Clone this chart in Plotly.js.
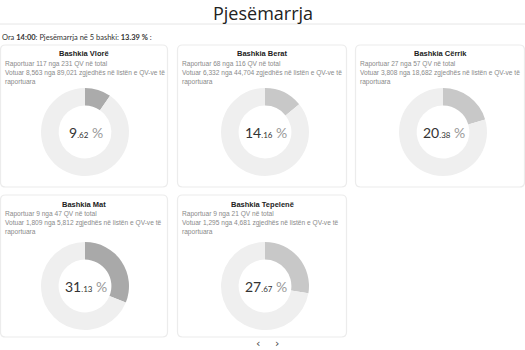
<!DOCTYPE html>
<html>
<head>
<meta charset="utf-8">
<script src="https://cdn.plot.ly/plotly-3.0.1.min.js"></script>
<style>html,body{margin:0;padding:0;background:#fff;}#chart{width:525px;height:350px;}</style>
</head>
<body>
<div id="chart"></div>
<script>
var municipalities = ["Bashkia Vlorë", "Bashkia Berat", "Bashkia Cërrik", "Bashkia Mat", "Bashkia Tepelenë"];
var reportedQV = [117, 68, 27, 9, 9];
var totalQV = [231, 116, 57, 47, 21];
var voted = [8563, 6332, 3808, 1809, 1295];
var registered = [89021, 44704, 18682, 5812, 4681];
var percentLabels = ["9.62", "14.16", "20.38", "31.13", "27.67"];
var sliceColors = ["#ababab", "#c8c8c8", "#c8c8c8", "#a9a9a9", "#c8c8c8"];
var overallTime = "14:00";
var overallPct = "13.39";

var W = 525, H = 350;
function fx(px){ return px / W; }
function fy(py){ return 1 - py / H; }
function fmt(n){ return n.toLocaleString("en-US"); }

var cardX = [[0,168],[177,347],[355,525]];
var rowTop = [45, 195];
var rowBot = [187, 337];
var donutCy = [132, 286];
var donutCx = [85, 265, 443];
var R = 44;

var traces = [], annotations = [], shapes = [];

shapes.push({type:"line", xref:"paper", yref:"paper", x0:0, x1:1, y0:fy(24), y1:fy(24), line:{color:"#e6e6e6", width:1}});

annotations.push({xref:"paper", yref:"paper", x:0.5, y:fy(13), text:"Pjesëmarrja", showarrow:false,
  font:{family:"'Open Sans', Lato, sans-serif", size:18, color:"#222", weight:400}, xanchor:"center", yanchor:"middle"});
annotations.push({xref:"paper", yref:"paper", x:0, y:fy(37), xanchor:"left", yanchor:"middle", showarrow:false,
  text:"Ora <b>" + overallTime + "</b>: Pjesëmarrja në 5 bashki: <b>" + overallPct + " %</b> :",
  font:{family:"Lato, sans-serif", size:7.5, color:"#333"}});

function roundRect(x0,y0,x1,y1,r){
  function P(x,y){ return fx(x)+","+fy(y); }
  return "M"+P(x0+r,y0)+" L"+P(x1-r,y0)+" Q"+P(x1,y0)+" "+P(x1,y0+r)+" L"+P(x1,y1-r)+" Q"+P(x1,y1)+" "+P(x1-r,y1)+
    " L"+P(x0+r,y1)+" Q"+P(x0,y1)+" "+P(x0,y1-r)+" L"+P(x0,y0+r)+" Q"+P(x0,y0)+" "+P(x0+r,y0)+" Z";
}

for (var i = 0; i < municipalities.length; i++) {
  var row = Math.floor(i / 3), col = i % 3;
  var cx = donutCx[col], cy = donutCy[row];
  var cardL = cardX[col][0], cardR = cardX[col][1], cardT = rowTop[row], cardB = rowBot[row];
  var cardCx = (cardL + cardR) / 2;

  shapes.push({type:"path", xref:"paper", yref:"paper", path:roundRect(cardL+0.5, cardT, cardR-0.5, cardB, 5),
    line:{color:"#ececec", width:1.2}, fillcolor:"rgba(0,0,0,0)", layer:"below"});

  traces.push({
    type:"pie", values:[voted[i], registered[i] - voted[i]], labels:["Votuar","Pa votuar"],
    hole:0.6, sort:false, direction:"clockwise", rotation:0, textinfo:"none", hoverinfo:"none",
    marker:{colors:[sliceColors[i], "#efefef"], line:{width:0}},
    domain:{x:[fx(cx - R), fx(cx + R)], y:[fy(cy + R), fy(cy - R)]}, showlegend:false
  });

  annotations.push({xref:"paper", yref:"paper", x:fx(cardCx), y:fy(cardT + 9), xanchor:"center", yanchor:"middle", showarrow:false,
    text:"<b>" + municipalities[i] + "</b>", font:{family:"Liberation Sans, Arial, sans-serif", size:7.5, color:"#222"}});
  var lines = [
    "Raportuar " + reportedQV[i] + " nga " + totalQV[i] + " QV në total",
    "Votuar " + fmt(voted[i]) + " nga " + fmt(registered[i]) + " zgjedhës në listën e QV-ve të",
    "raportuara"
  ];
  for (var k = 0; k < lines.length; k++) {
    annotations.push({xref:"paper", yref:"paper", x:fx(cardL + 3), y:fy(cardT + 18.5 + k * 9.2), xanchor:"left", yanchor:"middle", showarrow:false,
      text:lines[k], font:{family:"Liberation Sans, Arial, sans-serif", size:6.6, color:"#8a8a8a"}});
  }
  var parts = percentLabels[i].split(".");
  annotations.push({xref:"paper", yref:"paper", x:fx(cx + 1), y:fy(cy), xanchor:"center", yanchor:"middle", showarrow:false,
    text: parts[0] + "<span style='font-size:8px'>." + parts[1] + "</span> <span style='color:#9a9a9a'>%</span>",
    font:{family:"Lato, sans-serif", size:14, color:"#333"}});
}

annotations.push({xref:"paper", yref:"paper", x:fx(258), y:fy(343), xanchor:"center", yanchor:"middle", showarrow:false,
  text:"‹", font:{family:"DejaVu Sans", size:11, color:"#444"}});
annotations.push({xref:"paper", yref:"paper", x:fx(277), y:fy(343), xanchor:"center", yanchor:"middle", showarrow:false,
  text:"›", font:{family:"DejaVu Sans", size:11, color:"#444"}});

var layout = {
  width:W, height:H, margin:{l:0, r:0, t:0, b:0}, paper_bgcolor:"#fff", plot_bgcolor:"#fff",
  showlegend:false, annotations:annotations, shapes:shapes
};
Plotly.newPlot("chart", traces, layout, {displayModeBar:false, staticPlot:true});
</script>
</body>
</html>
